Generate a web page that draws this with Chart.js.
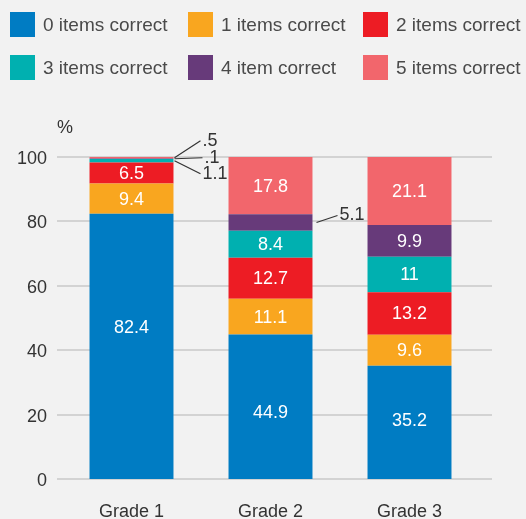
<!DOCTYPE html>
<html>
<head>
<meta charset="utf-8">
<script src="https://cdn.jsdelivr.net/npm/chart.js@4/dist/chart.umd.min.js"></script>
<style>
    html, body { margin: 0; padding: 0; background: #f2f2f2; }
    #wrap { position: relative; width: 526px; height: 519px; }
    #grafico { position: absolute; left: 0; top: 0; }
    #legenda { position: absolute; left: 0; top: 0; width: 526px; height: 90px;
        font-family: "Liberation Sans", Arial, sans-serif; font-size: 19px; color: #4a4a4a; }
    .item { position: absolute; display: flex; align-items: center; white-space: nowrap; }
    .caixa { width: 25px; height: 25px; margin-right: 8px; }
</style>
</head>
<body>
<div id="wrap">
    <canvas id="grafico" width="526" height="519"></canvas>
    <div id="legenda"></div>
</div>
<script>
const categorias = ["Grade 1", "Grade 2", "Grade 3"];
const series = ["0 items correct", "1 items correct", "2 items correct",
                "3 items correct", "4 item correct", "5 items correct"];
const cores = ["#007cc3", "#f9a61f", "#ed1c24", "#00b0b0", "#673a7a", "#f2666c"];

const zeroItens = [82.4, 44.9, 35.2];
const umItem = [9.4, 11.1, 9.6];
const doisItens = [6.5, 12.7, 13.2];
const tresItens = [1.1, 8.4, 11];
const quatroItens = [0.1, 5.1, 9.9];
const cincoItens = [0.5, 17.8, 21.1];

const ticksY = [0, 20, 40, 60, 80, 100];

const valores = [zeroItens, umItem, doisItens, tresItens, quatroItens, cincoItens];

// rótulos que ficam fora da barra, com linha de chamada
const chamadas = [
    { serie: 5, cat: 0, folga: 1, dx: 26, dy: -17 },
    { serie: 4, cat: 0, folga: 1, dx: 28, dy: -1 },
    { serie: 3, cat: 0, folga: 1, dx: 26, dy: 13 },
    { serie: 4, cat: 1, folga: 4, dx: 21, dy: -7 }
];

// pequenos deslocamentos verticais de rótulos internos (como no original)
const ajustes = [
    { serie: 0, cat: 0, dy: -19 },
    { serie: 0, cat: 1, dy: 5 },
    { serie: 0, cat: 2, dy: -2 }
];

// legenda em html (3 colunas x 2 linhas)
const colunas = [10, 188, 363];
const linhas = [12, 55];
const legenda = document.getElementById("legenda");
series.forEach((nome, i) => {
    const el = document.createElement("div");
    el.className = "item";
    el.style.left = colunas[i % 3] + "px";
    el.style.top = linhas[Math.floor(i / 3)] + "px";
    el.innerHTML = '<div class="caixa" style="background:' + cores[i] + '"></div><span>' + nome + '</span>';
    legenda.appendChild(el);
});

function formatar(v) {
    return v < 1 ? String(v).replace(/^0/, "") : String(v);
}

const fonte = '"Liberation Sans", Arial, sans-serif';

const rotulos = {
    id: "rotulos",
    beforeDatasetsDraw(chart) {
        const ctx = chart.ctx;
        const y = chart.scales.y;
        const a = chart.chartArea;
        ctx.save();
        ctx.strokeStyle = "#c8c8c8";
        ctx.lineWidth = 1.5;
        ticksY.forEach(t => {
            const py = Math.round(y.getPixelForValue(t));
            ctx.beginPath();
            ctx.moveTo(a.left - 5, py);
            ctx.lineTo(a.right + 13, py);
            ctx.stroke();
        });
        ctx.fillStyle = "#333";
        ctx.font = "18px " + fonte;
        ctx.textAlign = "left";
        ctx.textBaseline = "middle";
        ctx.fillText("%", a.left - 5, a.top - 29);
        ctx.restore();
    },
    afterDatasetsDraw(chart) {
        const ctx = chart.ctx;
        ctx.save();
        ctx.font = "18px " + fonte;
        ctx.textBaseline = "middle";
        chart.data.datasets.forEach((ds, di) => {
            const meta = chart.getDatasetMeta(di);
            meta.data.forEach((bar, i) => {
                const v = ds.data[i];
                const meio = (bar.y + bar.base) / 2;
                const c = chamadas.find(k => k.serie === di && k.cat === i);
                if (c) {
                    const x0 = bar.x + bar.width / 2 + c.folga;
                    ctx.strokeStyle = "#333";
                    ctx.lineWidth = 1.2;
                    ctx.beginPath();
                    ctx.moveTo(x0, meio);
                    ctx.lineTo(x0 + c.dx, meio + c.dy);
                    ctx.stroke();
                    ctx.fillStyle = "#333";
                    ctx.textAlign = "left";
                    ctx.fillText(formatar(v), x0 + c.dx + 2, meio + c.dy);
                } else {
                    const aj = ajustes.find(k => k.serie === di && k.cat === i);
                    ctx.fillStyle = "#ffffff";
                    ctx.textAlign = "center";
                    ctx.fillText(formatar(v), bar.x, meio + 1 + (aj ? aj.dy : 0));
                }
            });
        });
        ctx.restore();
    }
};

new Chart(document.getElementById("grafico"), {
    type: "bar",
    data: {
        labels: categorias,
        datasets: series.map((nome, i) => ({
            label: nome,
            data: valores[i],
            backgroundColor: cores[i],
            borderWidth: 0,
            categoryPercentage: 0.604,
            barPercentage: 1
        }))
    },
    options: {
        responsive: false,
        animation: false,
        layout: { padding: { top: 157, right: 47, bottom: 0, left: 0 } },
        plugins: { legend: { display: false }, tooltip: { enabled: false } },
        scales: {
            x: {
                stacked: true,
                grid: { display: false, drawTicks: false },
                border: { display: false },
                ticks: { color: "#333", font: { size: 18, family: fonte }, padding: 22 },
                afterFit(s) { s.height = 40; }
            },
            y: {
                stacked: true,
                min: 0,
                max: 100,
                grid: { display: false, drawTicks: false },
                border: { display: false },
                ticks: { stepSize: 20, color: "#333", font: { size: 18, family: fonte }, padding: 15, labelOffset: 2 },
                afterFit(s) { s.width = 62; }
            }
        }
    },
    plugins: [rotulos]
});
</script>
</body>
</html>
